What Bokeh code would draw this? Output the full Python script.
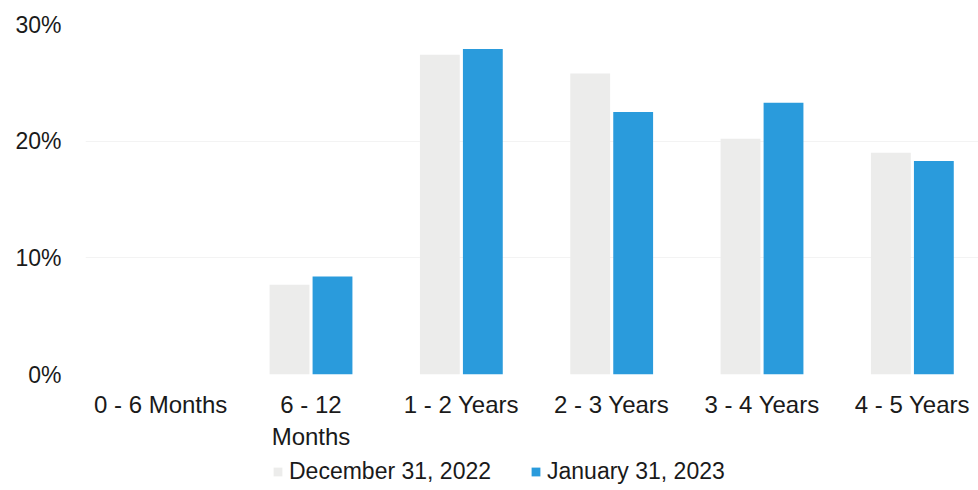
from bokeh.plotting import figure
from bokeh.layouts import column
from bokeh.models import ColumnDataSource, Range1d, FixedTicker, Legend, LegendItem
from bokeh.transform import dodge
from bokeh.embed import file_html
from bokeh.resources import INLINE

categories = ["0 - 6 Months", "6 - 12\nMonths", "1 - 2 Years", "2 - 3 Years", "3 - 4 Years", "4 - 5 Years"]
dec_2022 = [0.0, 7.7, 27.4, 25.8, 20.2, 19.0]
jan_2023 = [0.0, 8.4, 27.9, 22.5, 23.3, 18.3]
series_names = ["December 31, 2022", "January 31, 2023"]
y_ticks = [0, 10, 20, 30]

FONT = "Liberation Sans"
TXT = "#1a1a1a"
GRAY = "#ececeb"
BLUE = "#2a9bdc"

xs = list(range(len(categories)))
src = ColumnDataSource(dict(x=xs, dec=dec_2022, jan=jan_2023))

MAIN_H = 452
p = figure(width=978, height=MAIN_H, output_backend="svg", toolbar_location=None,
           x_range=Range1d(-0.5, 5.44), y_range=Range1d(0, 30),
           min_border_left=85, min_border_right=0, min_border_top=24, min_border_bottom=MAIN_H - 374)
p.outline_line_color = None
p.background_fill_color = "white"

p.vbar(x=dodge("x", -0.143, range=p.x_range), top="dec", width=0.265, source=src,
       fill_color=GRAY, line_color=None)
p.vbar(x=dodge("x", 0.143, range=p.x_range), top="jan", width=0.265, source=src,
       fill_color=BLUE, line_color=None)

p.xaxis.ticker = FixedTicker(ticks=xs)
p.xaxis.major_label_overrides = {i: c for i, c in enumerate(categories)}
p.yaxis.ticker = FixedTicker(ticks=y_ticks)
p.yaxis.major_label_overrides = {t: f"{t}%" for t in y_ticks}

for ax in (p.xaxis[0], p.yaxis[0]):
    ax.axis_line_color = None
    ax.major_tick_line_color = None
    ax.minor_tick_line_color = None
    ax.major_label_text_font = FONT
    ax.major_label_text_color = TXT
p.xaxis.major_label_text_font_size = "24px"
p.yaxis.major_label_text_font_size = "23px"
p.yaxis.major_label_standoff = 18
p.xaxis.major_label_standoff = 10

p.xgrid.grid_line_color = None
p.ygrid.grid_line_color = "#f3f3f3"
p.ygrid.grid_line_width = 1

# legend strip (its frame is aligned with the main frame by the column layout)
lf = figure(width=978, height=490 - MAIN_H, output_backend="svg", toolbar_location=None,
            x_range=Range1d(0, 1), y_range=Range1d(0, 1), min_border=0)
lf.axis.visible = False
lf.grid.visible = False
lf.outline_line_color = None
# zero-height proxy glyphs, only to give the legend its swatches
lr1 = lf.vbar(x=[-50], top=[0], width=0.1, fill_color=GRAY, line_color=None)
lr2 = lf.vbar(x=[-50], top=[0], width=0.1, fill_color=BLUE, line_color=None)
legend = Legend(items=[LegendItem(label=series_names[0], renderers=[lr1]),
                       LegendItem(label=series_names[1], renderers=[lr2])],
                orientation="horizontal", location=(187, 5),
                label_text_font=FONT, label_text_font_size="23px", label_text_color=TXT,
                glyph_width=11, glyph_height=11, spacing=39, label_standoff=6,
                border_line_color=None, background_fill_alpha=0, padding=0, margin=0)
lf.add_layout(legend, "center")

layout = column(p, lf, spacing=0)
open("out.html", "w").write(file_html(layout, INLINE))
